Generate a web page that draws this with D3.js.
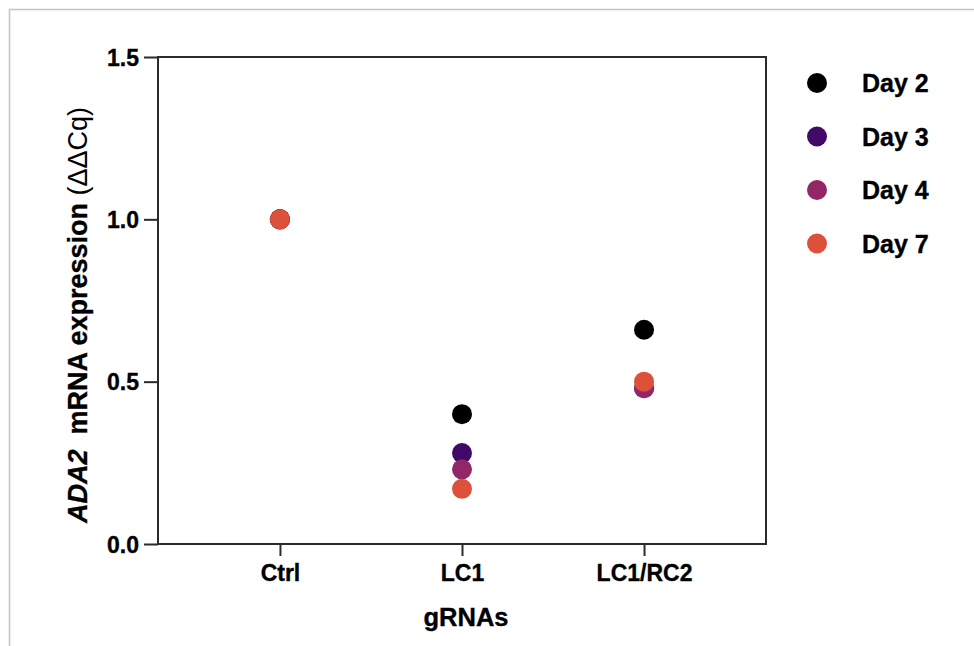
<!DOCTYPE html>
<html>
<head>
<meta charset="utf-8">
<script src="https://cdn.jsdelivr.net/npm/d3@7"></script>
<style>
  body { margin: 0; background: #fff; }
  svg text { font-family: "Liberation Sans", Arial, Helvetica, sans-serif; font-weight: bold; fill: #000;
             stroke: #000; stroke-width: 0.35px; }
</style>
</head>
<body>
<div id="chart"></div>
<script>
// data
let groups = ["Ctrl", "LC1", "LC1/RC2"];
let days = ["Day 2", "Day 3", "Day 4", "Day 7"];
let dayColors = ["#000000", "#420a68", "#932667", "#dd513a"];
let day2 = [1.0, 0.40, 0.66];
let day3 = [1.0, 0.28, 0.48];
let day4 = [1.0, 0.23, 0.48];
let day7 = [1.0, 0.17, 0.50];
let yTicks = [0, 0.5, 1.0, 1.5];

let series = [day2, day3, day4, day7];

let width = 974, height = 646;
let plot = { left: 158, right: 766, top: 57, bottom: 544 };

let svg = d3.select("#chart").append("svg")
  .attr("width", width)
  .attr("height", height);

// light frame round the picture
svg.append("rect")
  .attr("x", 9.5).attr("y", 9.5)
  .attr("width", 990).attr("height", 660)
  .attr("fill", "none")
  .attr("stroke", "#c4c4c4")
  .attr("stroke-width", 1.5);

let xScale = d3.scalePoint().domain(groups)
  .range([plot.left, plot.right]).padding(0.67);
let yScale = d3.scaleLinear().domain([0, 1.5])
  .range([plot.bottom, plot.top]);

// box
svg.append("rect")
  .attr("x", plot.left).attr("y", plot.top)
  .attr("width", plot.right - plot.left)
  .attr("height", plot.bottom - plot.top)
  .attr("fill", "none")
  .attr("stroke", "#2b2b2b")
  .attr("stroke-width", 2);

// y axis
let yAxis = svg.append("g")
  .attr("transform", "translate(" + plot.left + ",0)")
  .call(d3.axisLeft(yScale).tickValues(yTicks).tickFormat(d3.format(".1f"))
        .tickSize(14).tickPadding(5));
yAxis.select(".domain").remove();
yAxis.selectAll("line").attr("stroke", "#2b2b2b").attr("stroke-width", 2);
yAxis.selectAll("text").style("font-size", "23px").attr("dy", "0.36em");

// x axis
let xAxis = svg.append("g")
  .attr("transform", "translate(0," + plot.bottom + ")")
  .call(d3.axisBottom(xScale).tickSize(12).tickPadding(9));
xAxis.select(".domain").remove();
xAxis.selectAll("line").attr("stroke", "#2b2b2b").attr("stroke-width", 2);
xAxis.selectAll("text").style("font-size", "23px").attr("dy", "0.71em");

// axis titles
svg.append("text")
  .attr("x", (plot.left + plot.right) / 2 + 4)
  .attr("y", 626)
  .attr("text-anchor", "middle")
  .style("font-size", "25.5px")
  .text("gRNAs");

let yTitle = svg.append("text")
  .attr("transform", "translate(87,315) rotate(-90)")
  .attr("text-anchor", "middle")
  .style("font-size", "27px");
yTitle.append("tspan").style("font-style", "italic").text("ADA2");
yTitle.append("tspan").text("\u00a0 mRNA expression ");
yTitle.append("tspan").style("font-weight", "normal").style("stroke-width", "0px").text("(\u0394\u0394Cq)");

// points, Day 7 drawn last so it sits on top
series.forEach(function(vals, i) {
  svg.append("g").selectAll("circle")
    .data(vals)
    .enter()
    .append("circle")
    .attr("cx", function(d, j) { return xScale(groups[j]); })
    .attr("cy", function(d) { return yScale(d); })
    .attr("r", 10)
    .attr("fill", dayColors[i]);
});

// legend
let legend = svg.append("g").selectAll("g")
  .data(days)
  .enter()
  .append("g")
  .attr("transform", function(d, i) { return "translate(817," + (83 + i * 53.5) + ")"; });
legend.append("circle")
  .attr("r", 10)
  .attr("fill", function(d, i) { return dayColors[i]; });
legend.append("text")
  .attr("x", 45)
  .attr("dy", "0.36em")
  .style("font-size", "25px")
  .text(function(d) { return d; });
</script>
</body>
</html>
